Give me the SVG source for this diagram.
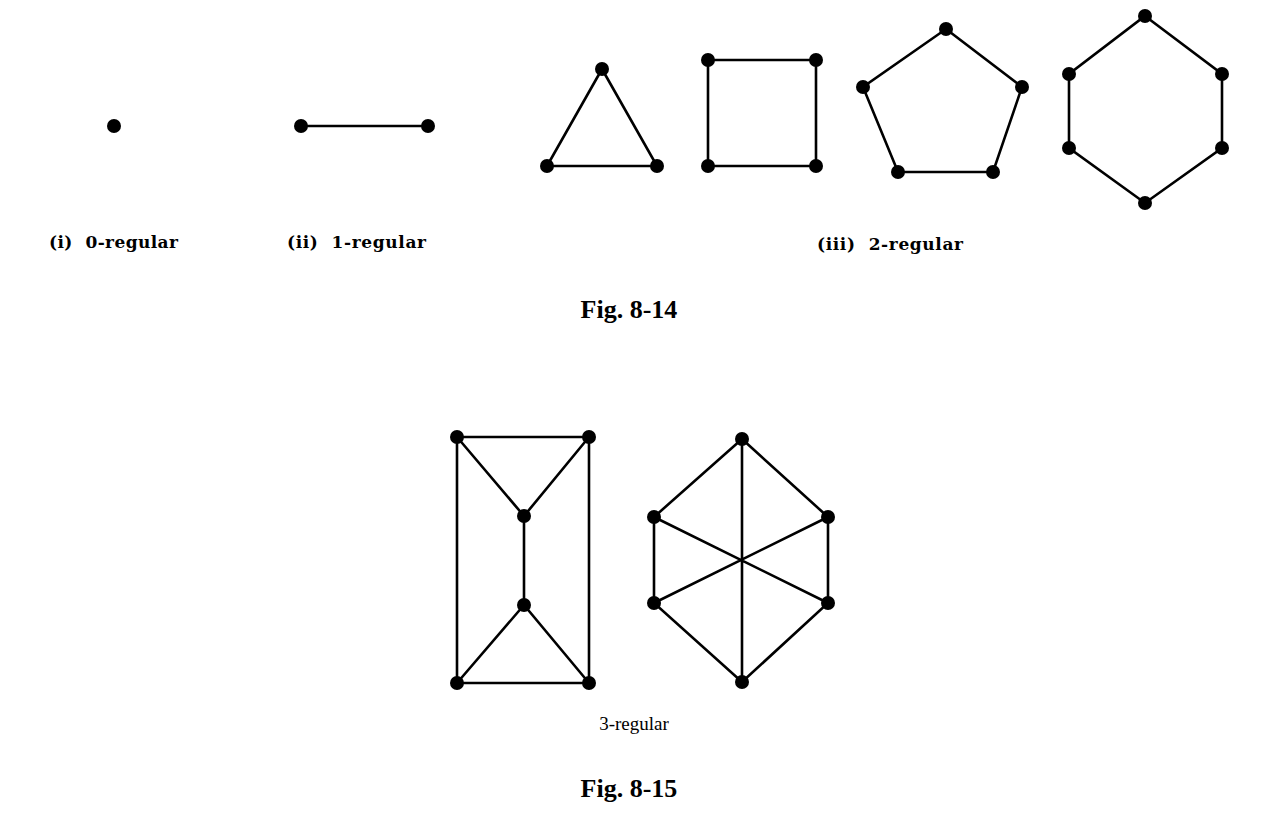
<svg xmlns="http://www.w3.org/2000/svg" width="1280" height="828" viewBox="0 0 1280 828">
<style>
.e{stroke:#000;stroke-width:2.6;fill:none;stroke-linecap:round}
.n{fill:#000}
.lb{font-family:"DejaVu Serif","Liberation Serif",serif;font-weight:bold;font-size:17px;fill:#000}
.fig{font-family:"Liberation Serif",serif;font-weight:bold;font-size:26px;fill:#000;text-anchor:middle}
.cap{font-family:"Liberation Serif",serif;font-size:19px;fill:#000;text-anchor:middle}
</style>
<rect width="1280" height="828" fill="#fff"/>
<g id="connectors">
<path class="e" d="M301 126H428"/>
<path class="e" d="M602 69L547 166L657 166Z"/>
<path class="e" d="M708 60H816V166H708Z"/>
<path class="e" d="M946 29L1022 87L993 172L898 172L863 87Z"/>
<path class="e" d="M1145 16L1222 74V148L1145 203L1069 148V74Z"/>
<path class="e" d="M457 437H589V683H457Z"/>
<path class="e" d="M457 437L524 516L589 437M524 516V605M457 683L524 605L589 683"/>
<path class="e" d="M742 439L828 517V603L742 682L654 603V517Z"/>
<path class="e" d="M742 439V682M654 517L828 603M654 603L828 517"/>
</g>
<g id="g0"><circle class="n" cx="114" cy="126" r="7"/></g>
<g id="g1"><circle class="n" cx="301" cy="126" r="7"/><circle class="n" cx="428" cy="126" r="7"/></g>
<g id="g2tri"><circle class="n" cx="602" cy="69" r="7"/><circle class="n" cx="547" cy="166" r="7"/><circle class="n" cx="657" cy="166" r="7"/></g>
<g id="g2sq"><circle class="n" cx="708" cy="60" r="7"/><circle class="n" cx="816" cy="60" r="7"/><circle class="n" cx="708" cy="166" r="7"/><circle class="n" cx="816" cy="166" r="7"/></g>
<g id="g2pent"><circle class="n" cx="946" cy="29" r="7"/><circle class="n" cx="863" cy="87" r="7"/><circle class="n" cx="1022" cy="87" r="7"/><circle class="n" cx="898" cy="172" r="7"/><circle class="n" cx="993" cy="172" r="7"/></g>
<g id="g2hex"><circle class="n" cx="1145" cy="16" r="7"/><circle class="n" cx="1069" cy="74" r="7"/><circle class="n" cx="1222" cy="74" r="7"/><circle class="n" cx="1069" cy="148" r="7"/><circle class="n" cx="1222" cy="148" r="7"/><circle class="n" cx="1145" cy="203" r="7"/></g>
<g id="g3a"><circle class="n" cx="457" cy="437" r="7"/><circle class="n" cx="589" cy="437" r="7"/><circle class="n" cx="524" cy="516" r="7"/><circle class="n" cx="524" cy="605" r="7"/><circle class="n" cx="457" cy="683" r="7"/><circle class="n" cx="589" cy="683" r="7"/></g>
<g id="g3b"><circle class="n" cx="742" cy="439" r="7"/><circle class="n" cx="654" cy="517" r="7"/><circle class="n" cx="828" cy="517" r="7"/><circle class="n" cx="654" cy="603" r="7"/><circle class="n" cx="828" cy="603" r="7"/><circle class="n" cx="742" cy="682" r="7"/></g>
<g id="labels">
<text class="lb" x="49" y="248" textLength="129" lengthAdjust="spacing" xml:space="preserve">(i)  0-regular</text>
<text class="lb" x="287" y="248" textLength="139" lengthAdjust="spacing" xml:space="preserve">(ii)  1-regular</text>
<text class="lb" x="817" y="250" textLength="146" lengthAdjust="spacing" xml:space="preserve">(iii)  2-regular</text>
<text class="fig" x="629" y="318">Fig. 8-14</text>
<text class="cap" x="634" y="730">3-regular</text>
<text class="fig" x="629" y="797">Fig. 8-15</text>
</g>
</svg>
